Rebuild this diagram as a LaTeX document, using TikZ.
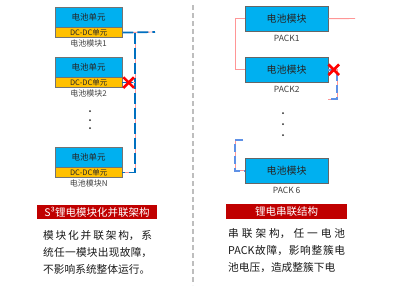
\documentclass[tikz,border=0pt]{standalone}
\usepackage{fontspec}
\setmainfont{Noto Sans CJK SC}
\usetikzlibrary{positioning,shapes.misc}
\XeTeXlinebreaklocale "zh"
\XeTeXlinebreakskip=0pt plus 1pt
\definecolor{cellblue}{RGB}{0,176,240}
\definecolor{dcorange}{RGB}{255,192,0}
\definecolor{bannerred}{RGB}{192,0,0}
\definecolor{busblue}{RGB}{0,112,192}
\definecolor{packblue}{RGB}{95,145,230}
\definecolor{linkpink}{RGB}{255,150,150}
\definecolor{sepgray}{RGB}{190,190,190}

\begin{document}
\begin{tikzpicture}[x=1pt,y=-1pt,
  cellbox/.style={draw=black!55,fill=cellblue,minimum width=67pt,minimum height=20pt,
                  inner sep=0pt,anchor=north west,text=black!85,font=\fontsize{8.5}{9}\selectfont},
  dcbox/.style={draw=black!55,fill=dcorange,minimum width=67pt,minimum height=10pt,
                inner sep=0pt,text=black!85,font=\fontsize{7.5}{8}\selectfont},
  modlabel/.style={inner sep=1pt,text=black!75,font=\fontsize{8}{9}\selectfont},
  packbox/.style={draw=black!60,fill=cellblue,minimum width=83pt,minimum height=25pt,
                  inner sep=0pt,anchor=north west,text=black!85,font=\fontsize{10}{11}\selectfont},
  packlabel/.style={inner sep=1pt,text=black!75,font=\fontsize{8.5}{9}\selectfont},
  busline/.style={draw=busblue,line width=1.7pt,dash pattern=on 11pt off 4pt,
                  preaction={draw=linkpink,line width=0.8pt,solid}},
  packbus/.style={draw=packblue,line width=1.7pt,dash pattern=on 8pt off 4pt,
                  preaction={draw=linkpink,line width=0.8pt,solid}},
  packlink/.style={draw=linkpink,line width=0.9pt},
  failmark/.style={cross out,draw=red,line width=2.6pt,minimum size=8pt,inner sep=0pt},
  banner/.style={fill=bannerred,text=white,minimum height=14.5pt,inner sep=0pt,
                 font=\fontsize{10.5}{11}\selectfont},
  bodytext/.style={anchor=north west,inner sep=0pt,align=justify,text=black!90,
                   font=\fontsize{10.7}{17}\selectfont},
  sepline/.style={draw=sepgray,line width=1.2pt,dash pattern=on 5pt off 3pt}]
  \useasboundingbox (0,0) rectangle (395,285);
  % left: modules in parallel
  \foreach \t/\n in {7/1,57/2,147/N}{
    \node[cellbox] (cell\n) at (55,\t) {电池单元};
    \node[dcbox,below=0pt of cell\n] (dc\n) {DC-DC单元};
    \node[modlabel,below=1pt of dc\n] (mlab\n) {电池模块\n};
  }
  \foreach \y in {111,120,128} \fill[black!85] (90,\y) circle (1pt);
  \coordinate (buscol) at (135,0);
  \coordinate (busend) at (155,32);
  \draw[busline] (dc1.east) -- (busend);
  \draw[busline] (dc1.east -| buscol) -- (dcN.east -| buscol) -- (dcN.east);
  \draw[busline] (dc2.east) -- (dc2.east -| buscol);
  \node[failmark,right=1pt of dc2.east] (fail1) {};
  % separator
  \draw[sepline] (193,5) -- (193,285);
  % right: packs in series
  \foreach \t/\n/\lab in {6/1/PACK1,57/2/PACK2,158/6/PACK 6}{
    \node[packbox] (pack\n) at (245,\t) {电池模块};
    \node[packlabel,below=3pt of pack\n] (plab\n) {\lab};
  }
  \foreach \y in {113,124,135} \fill[black!85] (283,\y) circle (1pt);
  \coordinate (linkcol) at (235,0);
  \coordinate (packout) at (355,18.5);
  \coordinate (retcol) at (337,99);
  \coordinate (brkend) at (243,140);
  \draw[packlink] (pack1.west) -- (pack1.west -| linkcol) -- (pack2.west -| linkcol) -- (pack2.west);
  \draw[packlink] (pack1.east) -- (packout);
  \draw[packbus] (pack2.east) -- (pack2.east -| retcol) -- (retcol) -- (retcol -| pack2.east);
  \draw[packbus] (brkend) -- (brkend -| linkcol) -- (pack6.west -| linkcol) -- (pack6.west);
  \node[failmark,right=0pt of pack2.east] (fail2) {};
  % captions
  \node[banner,minimum width=120pt] (lbanner) at (97,212) {S³锂电模块化并联架构};
  \node[banner,minimum width=121pt] (rbanner) at (286.5,211.5) {锂电串联结构};
  \node[bodytext,text width=109pt] (ltext) at (43,230)
    {模块化并联架构，系\linebreak 统任一模块出现故障，\linebreak 不影响系统整体运行。};
  \node[bodytext,text width=117pt] (rtext) at (228,228)
    {串联架构，任一电池\linebreak PACK故障，影响整簇电\linebreak 池电压，造成整簇下电};
\end{tikzpicture}
\end{document}
